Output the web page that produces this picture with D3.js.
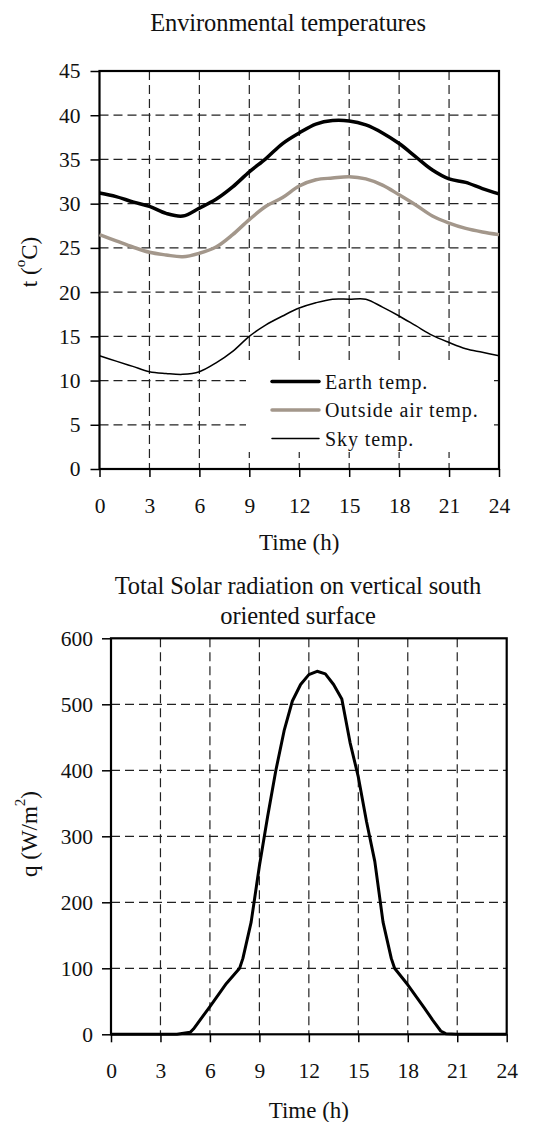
<!DOCTYPE html>
<html lang="en">
<head>
    <meta charset="UTF-8">
    <title>Environmental temperatures</title>
    <script src="https://d3js.org/d3.v7.min.js"></script>
    <style>
        body {margin: 0; background: white;}
        text {
            font-family: "Liberation Serif", "Times New Roman", serif;
            fill: #111;
        }
    </style>
</head>
<body>
<script>
    const width = 534;
    const height = 1122;

    // hours of the day
    const hours = d3.range(0, 25);
    const timeTicks = [0, 3, 6, 9, 12, 15, 18, 21, 24];

    // temperatures (deg C)
    const earthTemp = [31.2, 30.8, 30.2, 29.7, 28.9, 28.6, 29.5, 30.5, 31.9, 33.6, 35.1, 36.8, 38.0,
                       39.0, 39.4, 39.35, 38.9, 38.0, 36.8, 35.3, 33.8, 32.8, 32.4, 31.7, 31.1];
    const airTemp   = [26.5, 25.8, 25.1, 24.5, 24.2, 24.0, 24.4, 25.1, 26.5, 28.2, 29.7, 30.7, 32.0,
                       32.7, 32.9, 33.05, 32.8, 32.1, 31.0, 29.85, 28.6, 27.8, 27.2, 26.8, 26.5];
    const skyTemp   = [12.8, 12.2, 11.6, 11.0, 10.8, 10.7, 11.0, 12.0, 13.3, 15.0, 16.3, 17.3, 18.2,
                       18.8, 19.2, 19.2, 19.2, 18.3, 17.3, 16.2, 15.1, 14.3, 13.6, 13.2, 12.8];
    const tempTicks = [0, 5, 10, 15, 20, 25, 30, 35, 40, 45];
    const tempNames = ["Earth temp.", "Outside air temp.", "Sky temp."];

    // solar radiation (W/m2)
    const solarTime  = [0, 1, 2, 3, 4, 4.8, 5, 6, 7, 7.8, 8, 8.5, 9, 9.5, 10, 10.5, 11, 11.5, 12, 12.5,
                        13, 13.5, 14, 14.5, 15, 15.5, 16, 16.5, 17, 17.2, 18, 19, 19.5, 20, 20.3, 21, 22, 23, 24];
    const solarValue = [0, 0, 0, 0, 0, 3, 8, 42, 77, 100, 115, 170, 255, 330, 400, 460, 505, 530, 545, 550,
                        546, 530, 508, 442, 390, 322, 262, 170, 115, 100, 75, 40, 22, 5, 1, 0, 0, 0, 0];
    const solarTicks = [0, 100, 200, 300, 400, 500, 600];

    const svg = d3.select("body").append("svg")
            .attr("width", width).attr("height", height);

    function drawChart(cfg) {
        const x = d3.scaleLinear().domain([0, 24]).range([cfg.left, cfg.right]);
        const y = d3.scaleLinear().domain(cfg.yDomain).range([cfg.bottom, cfg.top]);
        const g = svg.append("g");

        // dashed grid
        g.selectAll("line.vgrid")
                .data(timeTicks.slice(1, -1))
                .enter().append("line")
                .attr("x1", d => x(d)).attr("x2", d => x(d))
                .attr("y1", cfg.top).attr("y2", cfg.bottom)
                .style("stroke", "#222").style("stroke-width", 1.2)
                .style("stroke-dasharray", "9,5");
        g.selectAll("line.hgrid")
                .data(cfg.yTicks.slice(1, -1))
                .enter().append("line")
                .attr("x1", cfg.left).attr("x2", cfg.right)
                .attr("y1", d => y(d)).attr("y2", d => y(d))
                .style("stroke", "#222").style("stroke-width", 1.2)
                .style("stroke-dasharray", "9,5");

        // axes
        const xAxis = g.append("g")
                .attr("transform", `translate(0,${cfg.bottom})`)
                .call(d3.axisBottom(x).tickValues(timeTicks).tickSize(8).tickPadding(cfg.xPad));
        const yAxis = g.append("g")
                .attr("transform", `translate(${cfg.left},0)`)
                .call(d3.axisLeft(y).tickValues(cfg.yTicks).tickSize(9).tickPadding(cfg.yPad));
        [xAxis, yAxis].forEach(a => {
            a.select(".domain").remove();
            a.selectAll("line").style("stroke", "black").style("stroke-width", 1.5);
            a.selectAll("text")
                    .style("font-family", '"Liberation Serif", serif')
                    .style("font-size", "21.5px").style("fill", "#111");
        });

        // frame
        g.append("rect")
                .attr("x", cfg.left).attr("y", cfg.top)
                .attr("width", cfg.right - cfg.left).attr("height", cfg.bottom - cfg.top)
                .style("fill", "none").style("stroke", "black").style("stroke-width", 2.2);

        // titles
        cfg.title.forEach((t, i) => {
            svg.append("text")
                    .attr("x", cfg.titleX).attr("y", cfg.titleY + i * 30)
                    .attr("text-anchor", "middle")
                    .attr("dominant-baseline", "central")
                    .style("font-size", "24.5px")
                    .style("letter-spacing", "-0.1px")
                    .text(t);
        });
        svg.append("text")
                .attr("x", (cfg.left + cfg.right) / 2).attr("y", cfg.xLabelY)
                .attr("text-anchor", "middle").attr("dominant-baseline", "central")
                .style("font-size", "23px")
                .text("Time (h)");

        const yl = svg.append("text")
                .attr("transform", `translate(29,${cfg.yLabelY}) rotate(-90)`)
                .attr("text-anchor", "middle").attr("dominant-baseline", "central")
                .style("font-size", "23px");
        yl.append("tspan").text(cfg.yLabel[0]);
        yl.append("tspan").attr("dy", -9).style("font-size", "15px").text(cfg.yLabel[1]);
        yl.append("tspan").attr("dy", 9).text(cfg.yLabel[2]);

        return {x, y, g};
    }

    // ---- chart 1: temperatures
    const c1 = drawChart({
        left: 99.5, right: 499, top: 71, bottom: 469,
        yDomain: [0, 45], yTicks: tempTicks, yPad: 10, xPad: 21,
        title: ["Environmental temperatures"], titleX: 288, titleY: 22,
        xLabelY: 542, yLabelY: 262, yLabel: ["t (", "o", "C)"]
    });

    const line1 = d3.line()
            .x((d, i) => c1.x(hours[i]))
            .y(d => c1.y(d))
            .curve(d3.curveCatmullRom.alpha(0.5));

    const series = [
        {name: tempNames[0], values: earthTemp, color: "black", w: 3.5},
        {name: tempNames[1], values: airTemp, color: "#a3978b", w: 3.5},
        {name: tempNames[2], values: skyTemp, color: "black", w: 1.5}
    ];

    series.forEach(s => {
        c1.g.append("path")
                .datum(s.values)
                .attr("d", line1)
                .style("fill", "none")
                .style("stroke", s.color)
                .style("stroke-width", s.w);
    });

    // legend with white background
    const legend = c1.g.append("g");
    legend.append("rect")
            .attr("x", 246).attr("y", 365).attr("width", 248).attr("height", 87)
            .style("fill", "white");
    series.forEach((s, i) => {
        const ly = 381.5 + i * 28.5;
        legend.append("line")
                .attr("x1", 272).attr("x2", 319)
                .attr("y1", ly).attr("y2", ly)
                .style("stroke", s.color).style("stroke-width", s.w)
                .style("stroke-linecap", "round");
        legend.append("text")
                .attr("x", 325).attr("y", ly)
                .attr("dominant-baseline", "central")
                .style("font-size", "20px")
                .style("letter-spacing", "0.9px")
                .text(s.name);
    });

    // ---- chart 2: solar radiation
    const c2 = drawChart({
        left: 111, right: 506.7, top: 638.3, bottom: 1034.3,
        yDomain: [0, 600], yTicks: solarTicks, yPad: 9, xPad: 20,
        title: ["Total Solar radiation on vertical south", "oriented surface"], titleX: 298, titleY: 585,
        xLabelY: 1110, yLabelY: 834, yLabel: ["q (W/m", "2", ")"]
    });

    const line2 = d3.line()
            .x((d, i) => c2.x(solarTime[i]))
            .y(d => c2.y(d));

    c2.g.append("path")
            .datum(solarValue)
            .attr("d", line2)
            .style("fill", "none")
            .style("stroke", "black")
            .style("stroke-width", 3)
            .style("stroke-linejoin", "round");
</script>
</body>
</html>
